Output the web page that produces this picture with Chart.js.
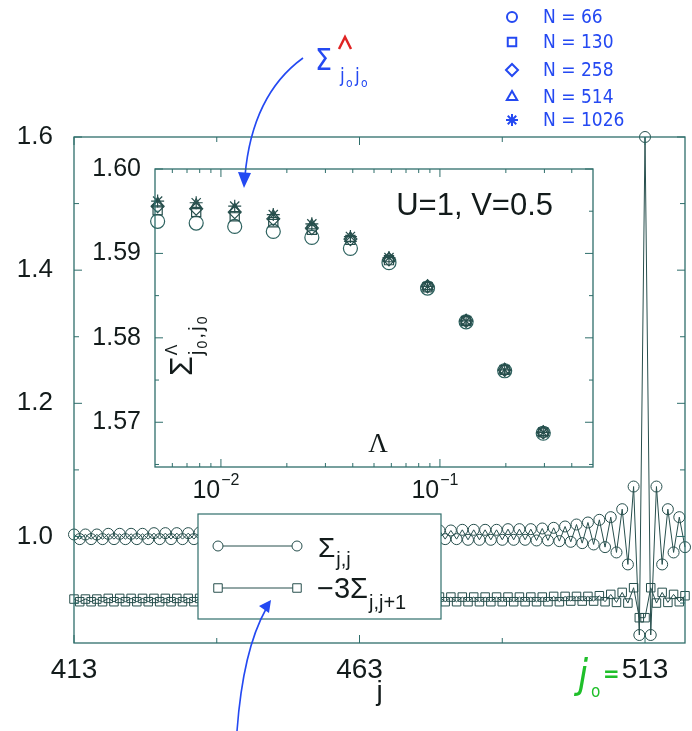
<!DOCTYPE html>
<html>
<head>
<meta charset="utf-8">
<script src="https://cdn.jsdelivr.net/npm/chart.js@4.4.1/dist/chart.umd.min.js"></script>
<style>
  html, body { margin: 0; padding: 0; background: #fff; }
  #wrap { position: relative; width: 692px; height: 731px; }
  #main { position: absolute; left: 0; top: 0; width: 692px; height: 731px; }
  #inset { position: absolute; left: 80px; top: 140px; width: 530px; height: 370px; }
</style>
</head>
<body>
<div id="wrap">
  <canvas id="main" width="692" height="731"></canvas>
  <canvas id="inset" width="530" height="370"></canvas>
</div>
<script>
// ---- main panel: sites j = 413 ... 520 (j0 = 513) ----
const jValues = [
  413, 414, 415, 416, 417, 418, 419, 420, 421, 422,
  423, 424, 425, 426, 427, 428, 429, 430, 431, 432,
  433, 434, 435, 436, 437, 438, 439, 440, 441, 442,
  443, 444, 445, 446, 447, 448, 449, 450, 451, 452,
  453, 454, 455, 456, 457, 458, 459, 460, 461, 462,
  463, 464, 465, 466, 467, 468, 469, 470, 471, 472,
  473, 474, 475, 476, 477, 478, 479, 480, 481, 482,
  483, 484, 485, 486, 487, 488, 489, 490, 491, 492,
  493, 494, 495, 496, 497, 498, 499, 500, 501, 502,
  503, 504, 505, 506, 507, 508, 509, 510, 511, 512,
  513, 514, 515, 516, 517, 518, 519, 520
];
// Sigma_{j,j}
const sigmaJJ = [
  1.003, 0.996, 1.003, 0.996, 1.003, 0.996, 1.004, 0.996, 1.004, 0.996,
  1.004, 0.996, 1.004, 0.996, 1.005, 0.996, 1.005, 0.996, 1.005, 0.996,
  1.005, 0.996, 1.006, 0.996, 1.006, 0.996, 1.006, 0.996, 1.006, 0.996,
  1.006, 0.996, 1.007, 0.996, 1.007, 0.996, 1.007, 0.996, 1.007, 0.996,
  1.007, 0.996, 1.007, 0.996, 1.008, 0.996, 1.008, 0.996, 1.008, 0.996,
  1.008, 0.996, 1.008, 0.996, 1.008, 0.996, 1.009, 0.996, 1.009, 0.996,
  1.009, 0.996, 1.009, 0.996, 1.009, 0.996, 1.009, 0.996, 1.010, 0.995,
  1.010, 0.995, 1.010, 0.995, 1.010, 0.995, 1.011, 0.995, 1.011, 0.995,
  1.011, 0.994, 1.012, 0.994, 1.013, 0.993, 1.015, 0.992, 1.018, 0.990,
  1.021, 0.988, 1.025, 0.984, 1.029, 0.976, 1.041, 0.958, 1.075, 0.852,
  1.600, 0.852, 1.075, 0.958, 1.041, 0.976, 1.029, 0.984
];
// -3 Sigma_{j,j+1}
const sigmaBond = [
  0.906, 0.902, 0.906, 0.902, 0.906, 0.902, 0.907, 0.902, 0.907, 0.902,
  0.907, 0.902, 0.907, 0.902, 0.907, 0.902, 0.907, 0.902, 0.907, 0.902,
  0.907, 0.902, 0.907, 0.902, 0.907, 0.902, 0.907, 0.902, 0.907, 0.902,
  0.908, 0.902, 0.908, 0.902, 0.908, 0.902, 0.908, 0.902, 0.908, 0.902,
  0.908, 0.902, 0.908, 0.902, 0.908, 0.902, 0.908, 0.902, 0.908, 0.902,
  0.908, 0.902, 0.908, 0.902, 0.908, 0.902, 0.908, 0.902, 0.908, 0.902,
  0.909, 0.902, 0.909, 0.902, 0.909, 0.902, 0.909, 0.902, 0.909, 0.902,
  0.909, 0.902, 0.909, 0.902, 0.909, 0.902, 0.909, 0.902, 0.909, 0.902,
  0.909, 0.902, 0.909, 0.902, 0.910, 0.902, 0.910, 0.903, 0.910, 0.903,
  0.910, 0.903, 0.911, 0.902, 0.913, 0.901, 0.916, 0.900, 0.923, 0.878,
  0.878, 0.923, 0.900, 0.916, 0.901, 0.913, 0.902, 0.911
];
const jTicks = [413, 463, 513];
const jMinor = [438, 488];
const yTicks = [1.0, 1.2, 1.4, 1.6];
const yMinor = [0.9, 1.1, 1.3, 1.5];

// ---- inset: Sigma^Lambda_{j0,j0} vs Lambda for several N ----
const lambdaVals = [0.00514, 0.00771, 0.01156, 0.01734, 0.02601, 0.03902, 0.05853, 0.08779, 0.13169, 0.19753, 0.2963];
const n66   = [1.5938, 1.5936, 1.5932, 1.5926, 1.5919, 1.5906, 1.5889, 1.5859, 1.5819, 1.5761, 1.5687];
const n130  = [1.5951, 1.5949, 1.5944, 1.5937, 1.5928, 1.5916, 1.5892, 1.5860, 1.5820, 1.5762, 1.5688];
const n258  = [1.5956, 1.5953, 1.5949, 1.5941, 1.5930, 1.5917, 1.5893, 1.5861, 1.5820, 1.5762, 1.5688];
const n514  = [1.5959, 1.5957, 1.5952, 1.5944, 1.5933, 1.5918, 1.5894, 1.5861, 1.5820, 1.5762, 1.5688];
const n1026 = [1.5962, 1.5960, 1.5956, 1.5946, 1.5935, 1.5920, 1.5895, 1.5861, 1.5820, 1.5762, 1.5688];
const nLabels = ['N = 66', 'N = 130', 'N = 258', 'N = 514', 'N = 1026'];
const nStyles = ['circle', 'rect', 'rectRot', 'triangle', 'star'];
const insetYTicks = [1.57, 1.58, 1.59, 1.60];
const insetYMinor = [1.565, 1.575, 1.585, 1.595];
const insetXTicks = [0.01, 0.1];
const insetXMinor = [0.006, 0.007, 0.008, 0.009, 0.02, 0.03, 0.04, 0.05, 0.06, 0.07, 0.08, 0.09, 0.2, 0.3, 0.4];

const SANS = "'Liberation Sans', Arial, sans-serif";
const HAND = "'DejaVu Sans Condensed', 'DejaVu Sans', sans-serif";
const textCol = '#131b1b';
const frameCol = '#2f6e6b';
const markCol = '#274f4d';
const blue = '#2449f2';

function drawMarker(ctx, style, r, x, y) {
  if (Chart.helpers && Chart.helpers.drawPoint) {
    Chart.helpers.drawPoint(ctx, { pointStyle: style, radius: r, rotation: 0, borderWidth: ctx.lineWidth }, x, y);
  } else {
    ctx.beginPath(); ctx.arc(x, y, r, 0, Math.PI * 2); ctx.fill(); ctx.stroke();
  }
}

function drawFrameTicks(chart, xMaj, xMin, yMaj, yMin, lenMaj, lenMin) {
  const { ctx, chartArea: a, scales } = chart;
  ctx.save();
  ctx.strokeStyle = frameCol;
  ctx.lineWidth = 1.3;
  ctx.strokeRect(a.left, a.top, a.right - a.left, a.bottom - a.top);
  ctx.lineWidth = 1;
  ctx.beginPath();
  const xs = [[xMaj, lenMaj], [xMin, lenMin]];
  xs.forEach(([vals, len]) => vals.forEach(v => {
    const px = scales.x.getPixelForValue(v);
    ctx.moveTo(px, a.bottom); ctx.lineTo(px, a.bottom - len);
    ctx.moveTo(px, a.top); ctx.lineTo(px, a.top + len);
  }));
  const ys = [[yMaj, lenMaj], [yMin, lenMin]];
  ys.forEach(([vals, len]) => vals.forEach(v => {
    const py = scales.y.getPixelForValue(v);
    ctx.moveTo(a.left, py); ctx.lineTo(a.left + len, py);
    ctx.moveTo(a.right, py); ctx.lineTo(a.right - len, py);
  }));
  ctx.stroke();
  ctx.restore();
}

const mainDecor = {
  id: 'mainDecor',
  afterDatasetsDraw(chart) {
    const ctx = chart.ctx;
    // legend box (covers the data lines)
    ctx.save();
    ctx.fillStyle = '#fff';
    ctx.fillRect(198, 514, 243, 105);
    ctx.strokeStyle = frameCol;
    ctx.lineWidth = 1.2;
    ctx.strokeRect(198, 514, 243, 105);
    ctx.strokeStyle = markCol;
    ctx.lineWidth = 1;
    [[546, 'circle', 5], [588, 'rect', 6]].forEach(([y, st, r]) => {
      ctx.beginPath(); ctx.moveTo(218, y); ctx.lineTo(297, y); ctx.stroke();
      ctx.fillStyle = '#fff';
      drawMarker(ctx, st, r, 218, y);
      drawMarker(ctx, st, r, 297, y);
    });
    ctx.fillStyle = textCol;
    ctx.textBaseline = 'alphabetic';
    ctx.textAlign = 'left';
    ctx.font = '28px ' + SANS;
    ctx.fillText('\u03A3', 318, 557);
    let w = ctx.measureText('\u03A3').width;
    ctx.font = '20px ' + SANS;
    ctx.fillText('j,j', 318 + w + 1, 566);
    ctx.font = '29px ' + SANS;
    ctx.fillText('\u22123\u03A3', 317, 598);
    w = ctx.measureText('\u22123\u03A3').width;
    ctx.font = '20px ' + SANS;
    ctx.fillText('j,j+1', 317 + w + 1, 609);
    ctx.restore();
    drawFrameTicks(chart, jTicks, jMinor, yTicks, yMinor, 8, 5);
  },
  afterDraw(chart) {
    const ctx = chart.ctx;
    ctx.save();
    // handwritten key of the inset symbols
    ctx.strokeStyle = blue;
    ctx.fillStyle = 'rgba(0,0,0,0)';
    ctx.lineWidth = 2;
    const rows = [17, 42, 70, 97, 120];
    nStyles.forEach((st, i) => {
      drawMarker(ctx, st, st === 'circle' ? 5 : 6, 512, rows[i]);
    });
    ctx.fillStyle = blue;
    ctx.font = '19px ' + HAND;
    ctx.textBaseline = 'middle';
    nLabels.forEach((t, i) => ctx.fillText(t, 543, rows[i] + 1));

    // handwritten Sigma^Lambda_{j0 j0} with arrow into the inset
    ctx.textBaseline = 'alphabetic';
    ctx.font = '30px ' + HAND;
    ctx.fillText('\u03A3', 315, 70);
    ctx.font = '19px ' + HAND;
    ctx.fillText('j', 340, 82);
    ctx.fillText('j', 355, 82);
    ctx.font = '12px ' + HAND;
    ctx.fillText('o', 346, 87);
    ctx.fillText('o', 361, 87);
    ctx.strokeStyle = '#e02424';
    ctx.lineWidth = 2.5;
    ctx.beginPath(); ctx.moveTo(339, 49); ctx.lineTo(345, 37); ctx.lineTo(351, 49); ctx.stroke();

    ctx.strokeStyle = blue;
    ctx.lineWidth = 1.6;
    ctx.beginPath(); ctx.moveTo(303, 58); ctx.quadraticCurveTo(252, 95, 245, 176); ctx.stroke();
    ctx.beginPath(); ctx.moveTo(238, 172); ctx.lineTo(251, 173); ctx.lineTo(244, 188); ctx.closePath(); ctx.fill();

    // arrow from below to the legend
    ctx.beginPath(); ctx.moveTo(237, 731); ctx.quadraticCurveTo(243, 650, 266, 609); ctx.stroke();
    ctx.beginPath(); ctx.moveTo(271, 600); ctx.lineTo(259, 606); ctx.lineTo(269, 613); ctx.closePath(); ctx.fill();

    // green j0 = before the 513 label
    ctx.fillStyle = '#1fbf2a';
    ctx.font = 'italic 40px ' + HAND;
    ctx.fillText('j', 578, 688);
    ctx.font = '17px ' + HAND;
    ctx.fillText('o', 591, 697);
    ctx.font = 'bold 22px ' + HAND;
    ctx.fillText('=', 603, 681);
    ctx.restore();
  }
};

new Chart(document.getElementById('main'), {
  type: 'line',
  data: {
    datasets: [
      {
        label: 'Sigma j,j',
        data: jValues.map((j, i) => ({ x: j, y: sigmaJJ[i] })),
        borderColor: markCol, borderWidth: 1,
        pointStyle: 'circle', pointRadius: 5.5, pointBorderWidth: 1,
        pointBorderColor: markCol, pointBackgroundColor: 'rgba(0,0,0,0)',
        tension: 0, clip: false
      },
      {
        label: '-3 Sigma j,j+1',
        data: jValues.map((j, i) => ({ x: j, y: sigmaBond[i] })),
        borderColor: markCol, borderWidth: 1,
        pointStyle: 'rect', pointRadius: 6, pointBorderWidth: 1,
        pointBorderColor: markCol, pointBackgroundColor: 'rgba(0,0,0,0)',
        tension: 0, clip: false
      }
    ]
  },
  options: {
    responsive: false,
    animation: false,
    devicePixelRatio: 1,
    layout: { padding: { top: 137, right: 4, left: 0, bottom: 0 } },
    plugins: { legend: { display: false }, tooltip: { enabled: false } },
    scales: {
      x: {
        type: 'linear', min: 413, max: 520,
        grid: { display: false, drawTicks: false },
        border: { display: false },
        afterBuildTicks: s => { s.ticks = jTicks.map(v => ({ value: v })); },
        afterFit: s => { s.height = 88; },
        ticks: { autoSkip: false, maxRotation: 0, padding: 10, color: textCol,
                 font: { family: SANS, size: 28 }, callback: v => String(v) },
        title: { display: true, text: 'j', color: textCol,
                 font: { family: SANS, size: 28 }, padding: { top: 0, bottom: 22 } }
      },
      y: {
        type: 'linear', min: 0.84, max: 1.6,
        grid: { display: false, drawTicks: false },
        border: { display: false },
        afterBuildTicks: s => { s.ticks = yTicks.map(v => ({ value: v })); },
        afterFit: s => { s.width = 74; },
        ticks: { padding: 21, color: textCol, font: { family: SANS, size: 26 },
                 callback: v => Number(v).toFixed(1) }
      }
    }
  },
  plugins: [mainDecor]
});

const insetDecor = {
  id: 'insetDecor',
  afterDatasetsDraw(chart) {
    drawFrameTicks(chart, insetXTicks, insetXMinor, insetYTicks, insetYMinor, 8, 4);
    const { ctx, chartArea: a, scales } = chart;
    ctx.save();
    ctx.fillStyle = textCol;
    ctx.textBaseline = 'alphabetic';
    // 10^-2, 10^-1
    insetXTicks.forEach(v => {
      const px = scales.x.getPixelForValue(v);
      const exp = '\u2212' + Math.round(-Math.log10(v));
      ctx.font = '25px ' + SANS;
      const w1 = ctx.measureText('10').width;
      ctx.font = '16px ' + SANS;
      const w2 = ctx.measureText(exp).width;
      const x0 = px - (w1 + w2 + 1) / 2 - 5;
      ctx.font = '25px ' + SANS;
      ctx.fillText('10', x0, a.bottom + 31);
      ctx.font = '16px ' + SANS;
      ctx.fillText(exp, x0 + w1 + 1, a.bottom + 18);
    });
    // Lambda axis title inside the panel
    ctx.font = '27px ' + "'Liberation Serif', 'Times New Roman', serif";
    ctx.textAlign = 'center';
    ctx.textBaseline = 'middle';
    ctx.fillText('\u039B', a.left + 223, a.bottom - 22);
    // U=1, V=0.5
    ctx.font = '31px ' + SANS;
    ctx.textAlign = 'right';
    ctx.fillText('U=1, V=0.5', a.right - 40, a.top + 37);
    // rotated y title  Sigma^Lambda_{j0,j0}
    ctx.translate(a.left + 37, a.top + 207);
    ctx.rotate(-Math.PI / 2);
    ctx.textAlign = 'left';
    ctx.textBaseline = 'alphabetic';
    ctx.font = '32px ' + SANS;
    ctx.fillText('\u03A3', 0, 0);
    let x = ctx.measureText('\u03A3').width + 1;
    ctx.font = '16px ' + SANS;
    ctx.fillText('\u039B', x, -15);
    const parts = [['j', 21, 11], ['0', 14, 15], [',', 21, 11], ['j', 21, 11], ['0', 14, 15]];
    parts.forEach(([t, size, dy]) => {
      ctx.font = size + 'px ' + SANS;
      ctx.fillText(t, x, dy);
      x += ctx.measureText(t).width + 2;
    });
    ctx.restore();
  }
};

const insetSeries = [n66, n130, n258, n514, n1026];
new Chart(document.getElementById('inset'), {
  type: 'scatter',
  data: {
    datasets: insetSeries.map((vals, k) => ({
      label: nLabels[k],
      data: lambdaVals.map((l, i) => ({ x: l, y: vals[i] })),
      pointStyle: nStyles[k],
      pointRadius: [7, 6.5, 6.5, 6.5, 6.5][k],
      pointBorderWidth: 1.2,
      pointBorderColor: k === 0 ? '#2d625f' : markCol,
      pointBackgroundColor: 'rgba(0,0,0,0)',
      order: 5 - k,
      clip: false
    }))
  },
  options: {
    responsive: false,
    animation: false,
    devicePixelRatio: 1,
    layout: { padding: { top: 17, right: 17, left: 0, bottom: 0 } },
    plugins: { legend: { display: false }, tooltip: { enabled: false } },
    scales: {
      x: {
        type: 'logarithmic', min: 0.005, max: 0.5,
        grid: { display: false, drawTicks: false },
        border: { display: false },
        afterBuildTicks: s => { s.ticks = insetXTicks.map(v => ({ value: v })); },
        afterFit: s => { s.height = 43; },
        ticks: { display: false }
      },
      y: {
        type: 'linear', min: 1.5647, max: 1.6,
        grid: { display: false, drawTicks: false },
        border: { display: false },
        afterBuildTicks: s => { s.ticks = insetYTicks.map(v => ({ value: v })); },
        afterFit: s => { s.width = 75; },
        ticks: { padding: 14, color: textCol, font: { family: SANS, size: 25 },
                 callback: v => Number(v).toFixed(2) }
      }
    }
  },
  plugins: [insetDecor]
});
</script>
</body>
</html>
